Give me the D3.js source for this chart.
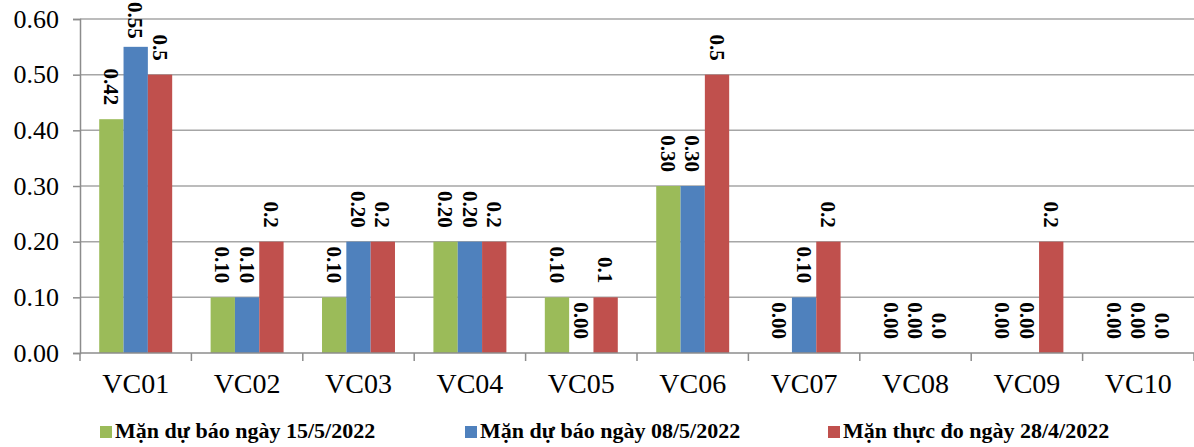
<!DOCTYPE html>
<html>
<head>
<meta charset="utf-8">
<script src="https://cdn.jsdelivr.net/npm/d3@7"></script>
<style>
  body { margin: 0; background: #fff; }
  text { font-family: "Liberation Serif", "Times New Roman", serif; }
</style>
</head>
<body>
<div id="chart"></div>
<script>
// values
var stations = ["VC01", "VC02", "VC03", "VC04", "VC05", "VC06", "VC07", "VC08", "VC09", "VC10"];
var seriesNames = ["Mặn dự báo ngày 15/5/2022", "Mặn dự báo ngày 08/5/2022", "Mặn thực đo ngày 28/4/2022"];
var forecast155 = [0.42, 0.10, 0.10, 0.20, 0.10, 0.30, 0.00, 0.00, 0.00, 0.00];
var forecast085 = [0.55, 0.10, 0.20, 0.20, 0.00, 0.30, 0.10, 0.00, 0.00, 0.00];
var measured284 = [0.5, 0.2, 0.2, 0.2, 0.1, 0.5, 0.2, 0.0, 0.2, 0.0];
var labelDigits = [2, 2, 1];
var yTicks = [0, 0.1, 0.2, 0.3, 0.4, 0.5, 0.6];
var colors = ["#9bbb59", "#4f81bd", "#c0504d"];

var width = 1194, height = 447;
var plotLeft = 80, plotRight = 1194, plotTop = 19, plotBottom = 353;

var allSeries = [forecast155, forecast085, measured284];

var svg = d3.select("#chart").append("svg")
    .attr("width", width)
    .attr("height", height);

var y = d3.scaleLinear().domain([0, 0.6]).range([plotBottom, plotTop]);

var x = d3.scaleBand()
    .domain(stations)
    .range([plotLeft, plotRight])
    .paddingInner(0.345)
    .paddingOuter(0.1725);

var xs = d3.scaleBand()
    .domain(d3.range(allSeries.length))
    .range([0, x.bandwidth()]);

// gridlines
svg.append("g")
    .selectAll("line")
    .data(yTicks.slice(1))
    .enter()
    .append("line")
    .attr("x1", plotLeft)
    .attr("x2", plotRight)
    .attr("y1", function (d) { return y(d); })
    .attr("y2", function (d) { return y(d); })
    .attr("stroke", "#a6a6a6")
    .attr("stroke-width", 1.5);

// bars
var groups = svg.append("g")
    .selectAll("g")
    .data(stations)
    .enter()
    .append("g")
    .attr("transform", function (d) { return "translate(" + x(d) + ",0)"; });

groups.selectAll("rect")
    .data(function (d, i) {
        return allSeries.map(function (s, k) { return { k: k, value: s[i] }; });
    })
    .enter()
    .append("rect")
    .attr("x", function (d) { return xs(d.k); })
    .attr("width", xs.bandwidth())
    .attr("y", function (d) { return y(d.value); })
    .attr("height", function (d) { return plotBottom - y(d.value); })
    .attr("fill", function (d) { return colors[d.k]; });

// value labels, rotated; pushed down when they would leave the top edge
groups.selectAll("text")
    .data(function (d, i) {
        return allSeries.map(function (s, k) { return { k: k, value: s[i] }; });
    })
    .enter()
    .append("text")
    .attr("text-anchor", "end")
    .attr("dy", "0.35em")
    .attr("font-size", 21)
    .attr("font-weight", "bold")
    .attr("fill", "#000")
    .text(function (d) { return d.value.toFixed(labelDigits[d.k]); })
    .attr("transform", function (d) {
        var len = this.getComputedTextLength();
        var endY = Math.max(y(d.value) - 14, 2 + len);
        return "translate(" + (xs(d.k) + xs.bandwidth() / 2) + "," + endY + ") rotate(90)";
    });

// y axis
var yAxis = svg.append("g")
    .attr("transform", "translate(" + plotLeft + ",0)")
    .call(d3.axisLeft(y).tickValues(yTicks).tickFormat(d3.format(".2f")).tickSize(7).tickPadding(14));

yAxis.select(".domain").attr("stroke", "#8c8c8c").attr("stroke-width", 1.5);
yAxis.selectAll(".tick line").attr("stroke", "#8c8c8c").attr("stroke-width", 1.5);
yAxis.selectAll(".tick text")
    .attr("font-size", 26)
    .attr("fill", "#000");

// x axis
var xAxisG = svg.append("g").attr("transform", "translate(0," + plotBottom + ")");
xAxisG.append("line")
    .attr("x1", plotLeft).attr("x2", plotRight)
    .attr("stroke", "#8c8c8c").attr("stroke-width", 1.5);
xAxisG.selectAll(".sep")
    .data(d3.range(stations.length + 1))
    .enter()
    .append("line")
    .attr("class", "sep")
    .attr("x1", function (i) { return plotLeft + i * x.step(); })
    .attr("x2", function (i) { return plotLeft + i * x.step(); })
    .attr("y1", 0).attr("y2", 8)
    .attr("stroke", "#8c8c8c").attr("stroke-width", 1.5);
xAxisG.selectAll(".lbl")
    .data(stations)
    .enter()
    .append("text")
    .attr("class", "lbl")
    .attr("x", function (d) { return x(d) + x.bandwidth() / 2; })
    .attr("y", 40)
    .attr("text-anchor", "middle")
    .attr("font-size", 28)
    .attr("fill", "#000")
    .text(function (d) { return d; });

// legend
var legendX = [100, 465, 828];
var legend = svg.append("g")
    .selectAll("g")
    .data(seriesNames)
    .enter()
    .append("g")
    .attr("transform", function (d, i) { return "translate(" + legendX[i] + ",426)"; });

legend.append("rect")
    .attr("width", 12)
    .attr("height", 12)
    .attr("fill", function (d, i) { return colors[i]; });

legend.append("text")
    .attr("x", 15)
    .attr("y", 12)
    .attr("font-size", 22)
    .attr("font-weight", "bold")
    .attr("fill", "#000")
    .text(function (d) { return d; });
</script>
</body>
</html>
